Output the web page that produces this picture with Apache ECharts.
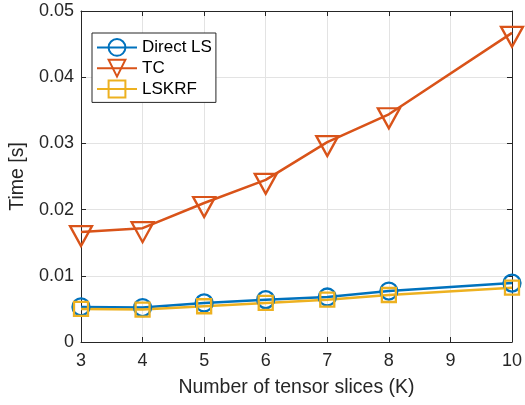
<!DOCTYPE html>
<html>
<head>
<meta charset="utf-8">
<script src="https://cdn.jsdelivr.net/npm/echarts@6/dist/echarts.min.js"></script>
<style>
  html, body { margin: 0; padding: 0; background: #fff; }
  #chart { width: 525px; height: 405px; }
</style>
</head>
<body>
<div id="chart"></div>
<script>
// Number of tensor slices K
const slices = [3, 4, 5, 6, 7, 8, 10];
// Run times in seconds
const directLS = [0.0053, 0.0052, 0.0059, 0.0064, 0.0068, 0.0077, 0.0089];
const tc       = [0.0166, 0.0172, 0.0210, 0.0245, 0.0302, 0.0344, 0.0467];
const lskrf    = [0.0050, 0.0049, 0.0054, 0.0059, 0.0064, 0.0071, 0.0082];
const xTicks = [3, 4, 5, 6, 7, 8, 9, 10];
const yTicks = [0, 0.01, 0.02, 0.03, 0.04, 0.05];

const FONT = '"Liberation Sans", Arial, Helvetica, sans-serif';
const AXIS_COLOR = '#262626';
const GRID_COLOR = '#e3e3e3';
const C_BLUE = '#0072BD', C_RED = '#D95319', C_YELLOW = '#EDB120';

const pairs = ys => slices.map((x, i) => [x, ys[i]]);

const baseX = {
  type: 'value',
  min: xTicks[0], max: xTicks[xTicks.length - 1], interval: 1,
  axisLine: { show: true, onZero: false, lineStyle: { color: AXIS_COLOR, width: 1 } },
  axisTick: { show: true, inside: true, length: 5, lineStyle: { color: AXIS_COLOR } },
};
const baseY = {
  type: 'value',
  min: yTicks[0], max: yTicks[yTicks.length - 1], interval: 0.01,
  axisLine: { show: true, onZero: false, lineStyle: { color: AXIS_COLOR, width: 1 } },
  axisTick: { show: true, inside: true, length: 5, lineStyle: { color: AXIS_COLOR } },
};

function series(name, ys, color, symbol, size, offset) {
  return {
    name, type: 'line', data: pairs(ys),
    xAxisIndex: 0, yAxisIndex: 0,
    symbol, symbolSize: size, symbolOffset: offset || [0, 0],
    showAllSymbol: true,
    lineStyle: { color, width: 2.5 },
    itemStyle: { color: 'rgba(0,0,0,0)', borderColor: color, borderWidth: 2.3 },
    emphasis: { disabled: true },
    animation: false,
  };
}

const chart = echarts.init(document.getElementById('chart'), null, { renderer: 'canvas' });
chart.setOption({
  backgroundColor: '#fff',
  animation: false,
  textStyle: { fontFamily: FONT },
  grid: { left: 81, right: 10, top: 11, bottom: 63, containLabel: false },
  xAxis: [
    Object.assign({}, baseX, {
      position: 'bottom',
      name: 'Number of tensor slices (K)',
      nameLocation: 'middle', nameGap: 36,
      nameTextStyle: { fontFamily: FONT, fontSize: 19.5, color: AXIS_COLOR },
      axisLabel: { show: true, margin: 10, fontFamily: FONT, fontSize: 18, color: AXIS_COLOR },
      splitLine: { show: true, lineStyle: { color: GRID_COLOR, width: 1 } },
    }),
    Object.assign({}, baseX, {
      position: 'top',
      axisLabel: { show: false },
      splitLine: { show: false },
    }),
  ],
  yAxis: [
    Object.assign({}, baseY, {
      position: 'left',
      name: 'Time [s]',
      nameLocation: 'middle', nameGap: 46, nameRotate: 90,
      nameTextStyle: { fontFamily: FONT, fontSize: 19.5, color: AXIS_COLOR },
      axisLabel: { show: true, margin: 7, fontFamily: FONT, fontSize: 18, color: AXIS_COLOR,
                   formatter: v => (v === 0 ? '0' : v.toFixed(2)) },
      splitLine: { show: true, lineStyle: { color: GRID_COLOR, width: 1 } },
    }),
    Object.assign({}, baseY, {
      position: 'right',
      axisLabel: { show: false },
      splitLine: { show: false },
    }),
  ],
  legend: {
    orient: 'vertical',
    left: 92, top: 33,
    padding: [5, 4, 4, 4],
    itemWidth: 40, itemHeight: 21, itemGap: 2,
    backgroundColor: '#fff',
    borderColor: AXIS_COLOR, borderWidth: 1, borderRadius: 0,
    textStyle: { fontFamily: FONT, fontSize: 17, color: '#000' },
    data: ['Direct LS', 'TC', 'LSKRF'],
    selectedMode: false,
  },
  series: [
    series('Direct LS', directLS, C_BLUE, 'circle', 17),
    series('TC', tc, C_RED, 'path://M0,0L22,0L11,20Z', [22, 20], [0, 4]),
    series('LSKRF', lskrf, C_YELLOW, 'rect', 14),
  ],
});
</script>
</body>
</html>
